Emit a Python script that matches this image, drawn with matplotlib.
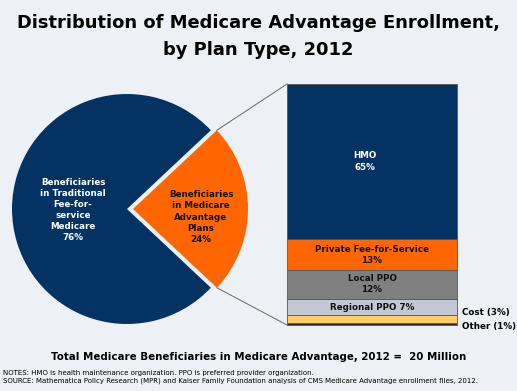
import matplotlib
matplotlib.use("Agg")
import matplotlib.pyplot as plt
import numpy as np

# pie: traditional vs advantage
pie_labels = ["Beneficiaries\nin Traditional\nFee-for-\nservice\nMedicare\n76%",
              "Beneficiaries\nin Medicare\nAdvantage\nPlans\n24%"]
pie_values = [76, 24]

# stacked bar, bottom to top
plan_types = ["Other", "Cost", "Regional PPO", "Local PPO", "Private Fee-for-Service", "HMO"]
plan_values = [1, 3, 7, 12, 13, 65]
plan_labels = ["Other (1%)", "Cost (3%)", "Regional PPO 7%", "Local PPO\n12%",
               "Private Fee-for-Service\n13%", "HMO\n65%"]

BG = "#EDF1F5"
NAVY = "#043363"
ORANGE = "#FF6600"
plan_colors = ["#2B2B2B", "#FFCC66", "#C4C7D6", "#808080", ORANGE, NAVY]

W, H = 517, 391
fig = plt.figure(figsize=(W / 100, H / 100), dpi=100, facecolor=BG)
ax = fig.add_axes([0, 0, 1, 1])
ax.set_facecolor(BG)

# pie
r = 115
center = (127, H - 209)
wedges, _ = ax.pie(pie_values, colors=[NAVY, ORANGE], startangle=43.2,
                   explode=[0, 6], radius=r, center=center,
                   wedgeprops=dict(linewidth=0), frame=True)
ax.set_xlim(0, W)
ax.set_ylim(0, H)
ax.set_aspect("equal")
ax.axis("off")

LBL = 6.3
ax.text(73, H - 210, pie_labels[0], color="white", fontsize=LBL, fontweight="bold",
        ha="center", va="center", linespacing=1.3)
ax.text(201, H - 217, pie_labels[1], color="#111111", fontsize=LBL, fontweight="bold",
        ha="center", va="center", linespacing=1.3)

# stacked bar
bar_x, bar_w = 372, 170
bar_bottom, bar_h = H - 325, 241
scale = bar_h / sum(plan_values)
heights = np.array(plan_values) * scale
bottoms = bar_bottom + np.concatenate([[0], np.cumsum(heights)[:-1]])
ax.bar(bar_x, heights, width=bar_w, bottom=bottoms, color=plan_colors,
       edgecolor="#555555", linewidth=0.6)

for name, lab, b, h in zip(plan_types, plan_labels, bottoms, heights):
    if name in ("Other", "Cost"):
        continue
    col = "white" if name == "HMO" else "#111111"
    ax.text(bar_x - 7 if name == "HMO" else bar_x, b + h / 2, lab, color=col,
            fontsize=LBL, fontweight="bold", ha="center", va="center", linespacing=1.3)
ax.text(462, H - 313, plan_labels[1], fontsize=LBL, fontweight="bold", va="center")
ax.text(462, H - 327, plan_labels[0], fontsize=LBL, fontweight="bold", va="center")

# connector lines from the advantage wedge to the bar
wd = wedges[1]
cx, cy = wd.center
for ang, ty in ((wd.theta2, bar_bottom + bar_h), (wd.theta1, bar_bottom)):
    px = cx + wd.r * np.cos(np.radians(ang))
    py = cy + wd.r * np.sin(np.radians(ang))
    ax.plot([px, bar_x - bar_w / 2], [py, ty], color="#666666", lw=0.7)

# titles and notes
fig.text(0.5, 1 - 23 / H, "Distribution of Medicare Advantage Enrollment,",
         ha="center", va="center", fontsize=12.9, fontweight="bold")
fig.text(0.5, 1 - 50 / H, "by Plan Type, 2012",
         ha="center", va="center", fontsize=12.9, fontweight="bold")
fig.text(0.5, 1 - 357 / H, "Total Medicare Beneficiaries in Medicare Advantage, 2012 =  20 Million",
         ha="center", va="center", fontsize=7.4, fontweight="bold")
fig.text(3 / W, 1 - 373 / H, "NOTES: HMO is health maintenance organization. PPO is preferred provider organization.",
         ha="left", va="center", fontsize=5.0)
fig.text(3 / W, 1 - 381 / H, "SOURCE: Mathematica Policy Research (MPR) and Kaiser Family Foundation analysis of CMS Medicare Advantage enrollment files, 2012.",
         ha="left", va="center", fontsize=5.0)

fig.savefig("out.png", dpi=100, facecolor=BG)
